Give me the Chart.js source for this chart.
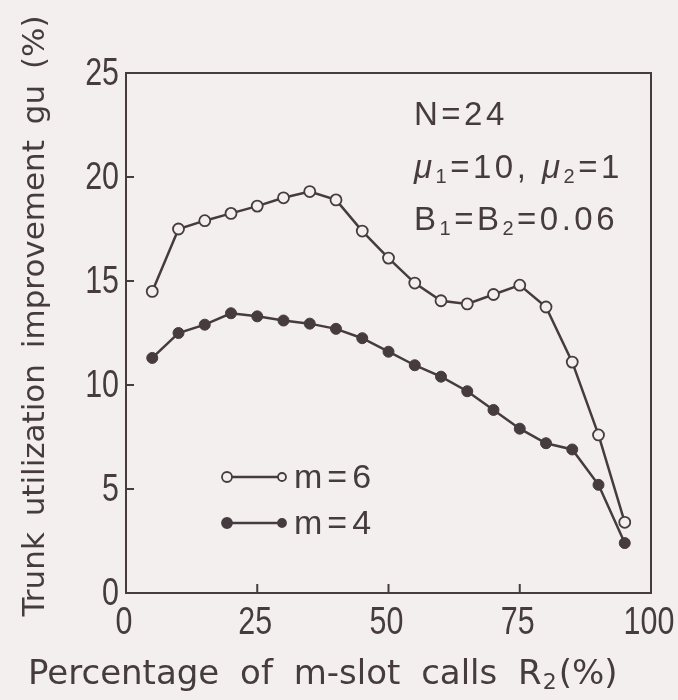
<!DOCTYPE html>
<html><head><meta charset="utf-8">
<script src="https://cdn.jsdelivr.net/npm/chart.js@4"></script>
<style>html,body{margin:0;padding:0;background:#f2efee;}</style>
</head><body>
<canvas id="c" width="678" height="700"></canvas>
<script>
// ---- data ----
const xValues = [5,10,15,20,25,30,35,40,45,50,55,60,65,70,75,80,85,90,95];
const m6Values = [14.5,17.5,17.9,18.25,18.6,19.0,19.3,18.9,17.4,16.1,14.9,14.05,13.9,14.35,14.8,13.75,11.1,7.6,3.4];
const m4Values = [11.3,12.5,12.9,13.45,13.3,13.1,12.95,12.7,12.25,11.6,10.95,10.4,9.7,8.8,7.9,7.2,6.9,5.2,2.4];
const seriesLabels = ['m=6','m=4'];
const xTicks = [0,25,50,75,100];
const yTicks = [0,5,10,15,20,25];
const xTitle = ['Percentage of m-slot calls R', '2', '(%)'];
const yTitle = 'Trunk utilization improvement gu (%)';
const noteLines = [
  [['N=24','n']],
  [['\u03BC','i'],['1','s'],['=10, ','n'],['\u03BC','i'],['2','s'],['=1','n']],
  [['B','n'],['1','s'],['=B','n'],['2','s'],['=0.06','n']]
];

// ---- style ----
const BG = '#f2efee';
const INK = '#463c40';
const SANS = "'Liberation Sans',Arial,sans-serif";
const TITLEFONT = "'DejaVu Sans',sans-serif";

function pts(vals){ return xValues.map((x,i)=>({x:x,y:vals[i]})); }

function drawSegments(ctx, segs, x, y, size, spacing){
  ctx.textBaseline = 'alphabetic';
  ctx.textAlign = 'left';
  for (const [t,k] of segs){
    let fs = size, dy = 0, style = '';
    if (k==='s'){ fs = Math.round(size*0.62); dy = size*0.16; }
    if (k==='i'){ style = 'italic '; }
    ctx.font = style + fs + 'px ' + SANS;
    ctx.letterSpacing = spacing + 'px';
    ctx.fillText(t, x, y+dy);
    x += ctx.measureText(t).width;
  }
  ctx.letterSpacing = '0px';
}

function condensedText(ctx, t, x, y, align, baseline){
  ctx.save();
  ctx.font = '39px ' + SANS;
  ctx.textBaseline = baseline;
  ctx.textAlign = align;
  ctx.translate(x, y);
  ctx.scale(0.78, 1);
  ctx.fillText(t, 0, 0);
  ctx.restore();
}

const decor = {
  id:'decor',
  beforeDraw(chart){
    const ctx = chart.ctx;
    ctx.save(); ctx.fillStyle = BG; ctx.fillRect(0,0,chart.width,chart.height); ctx.restore();
  },
  afterDraw(chart){
    const ctx = chart.ctx, a = chart.chartArea;
    const xs = chart.scales.x, ys = chart.scales.y;
    ctx.save();
    ctx.strokeStyle = INK; ctx.lineWidth = 2;
    ctx.strokeRect(a.left, a.top, a.right-a.left, a.bottom-a.top);
    // inward ticks
    ctx.beginPath();
    for (const v of yTicks){ if (v<=0||v>=25) continue; const p = ys.getPixelForValue(v); ctx.moveTo(a.left,p); ctx.lineTo(a.left+8,p); }
    for (const v of xTicks){ if (v<=0||v>=100) continue; const p = xs.getPixelForValue(v); ctx.moveTo(p,a.bottom); ctx.lineTo(p,a.bottom-9); }
    ctx.stroke();
    ctx.fillStyle = INK;
    // tick labels (from the library's scale ticks)
    ys.ticks.forEach(t=>condensedText(ctx, String(t.value), a.left-7, ys.getPixelForValue(t.value)+1, 'right', 'middle'));
    xs.ticks.forEach(t=>condensedText(ctx, String(t.value), xs.getPixelForValue(t.value)-2, a.bottom+11, 'center', 'top'));
    // notes
    const noteY = [125,178,230];
    noteLines.forEach((segs,i)=>drawSegments(ctx, segs, 414, noteY[i], 33, 3.5));
    // legend
    const ds = chart.data.datasets;
    const legY = [477,523];
    ds.forEach((d,i)=>{
      const y = legY[i];
      ctx.strokeStyle = INK; ctx.lineWidth = 2.5;
      ctx.beginPath(); ctx.moveTo(227,y); ctx.lineTo(282,y); ctx.stroke();
      [[227,5],[282,4]].forEach(([x,r])=>{
        ctx.beginPath(); ctx.arc(x,y,r,0,Math.PI*2);
        ctx.fillStyle = d.pointBackgroundColor; ctx.fill();
        ctx.lineWidth = 1.8; ctx.strokeStyle = INK; ctx.stroke();
      });
      ctx.fillStyle = INK;
      ctx.font = '34px ' + SANS; ctx.letterSpacing = '5px';
      ctx.textAlign = 'left'; ctx.textBaseline = 'middle';
      ctx.fillText(d.label, 294, y+2);
      ctx.letterSpacing = '0px';
    });
    // x title
    ctx.fillStyle = INK;
    ctx.textBaseline = 'alphabetic'; ctx.textAlign = 'left';
    ctx.font = '34px ' + TITLEFONT; ctx.wordSpacing = '10px';
    let x = 28; const by = 684;
    ctx.fillText(xTitle[0], x, by); x += ctx.measureText(xTitle[0]).width;
    ctx.font = '22px ' + TITLEFONT;
    ctx.fillText(xTitle[1], x+1, by+5); x += ctx.measureText(xTitle[1]).width + 3;
    ctx.font = '34px ' + TITLEFONT;
    ctx.fillText(xTitle[2], x, by);
    // y title
    ctx.save();
    ctx.translate(44, 316); ctx.rotate(-Math.PI/2);
    ctx.font = '31px ' + TITLEFONT; ctx.wordSpacing = '6px';
    ctx.textAlign = 'center'; ctx.textBaseline = 'alphabetic';
    ctx.fillText(yTitle, 0, 0);
    ctx.restore();
    ctx.wordSpacing = '0px';
    ctx.restore();
  }
};

new Chart(document.getElementById('c'), {
  type:'line',
  data:{ datasets:[
    { label: seriesLabels[0], data: pts(m6Values), borderColor: INK, borderWidth: 2.5,
      pointRadius: 5.5, pointBorderWidth: 1.8, pointBackgroundColor: BG, pointBorderColor: INK, tension: 0 },
    { label: seriesLabels[1], data: pts(m4Values), borderColor: INK, borderWidth: 2.5,
      pointRadius: 5.5, pointBorderWidth: 1, pointBackgroundColor: INK, pointBorderColor: INK, tension: 0 }
  ]},
  options:{
    responsive:false, animation:false, devicePixelRatio:1,
    layout:{ padding:{ top:73, right:27, left:0, bottom:0 } },
    plugins:{ legend:{display:false}, tooltip:{enabled:false}, title:{display:false} },
    scales:{
      x:{ type:'linear', min:0, max:100,
          afterBuildTicks(s){ s.ticks = xTicks.map(v=>({value:v})); },
          afterFit(s){ s.height = 107; s.paddingLeft = 0; s.paddingRight = 0; },
          grid:{ display:false, drawTicks:false }, border:{ display:false },
          ticks:{ display:false } },
      y:{ type:'linear', min:0, max:25,
          afterBuildTicks(s){ s.ticks = yTicks.map(v=>({value:v})); },
          afterFit(s){ s.width = 126; s.paddingTop = 0; s.paddingBottom = 0; },
          grid:{ display:false, drawTicks:false }, border:{ display:false },
          ticks:{ display:false } }
    }
  },
  plugins:[decor]
});
</script>
</body></html>
